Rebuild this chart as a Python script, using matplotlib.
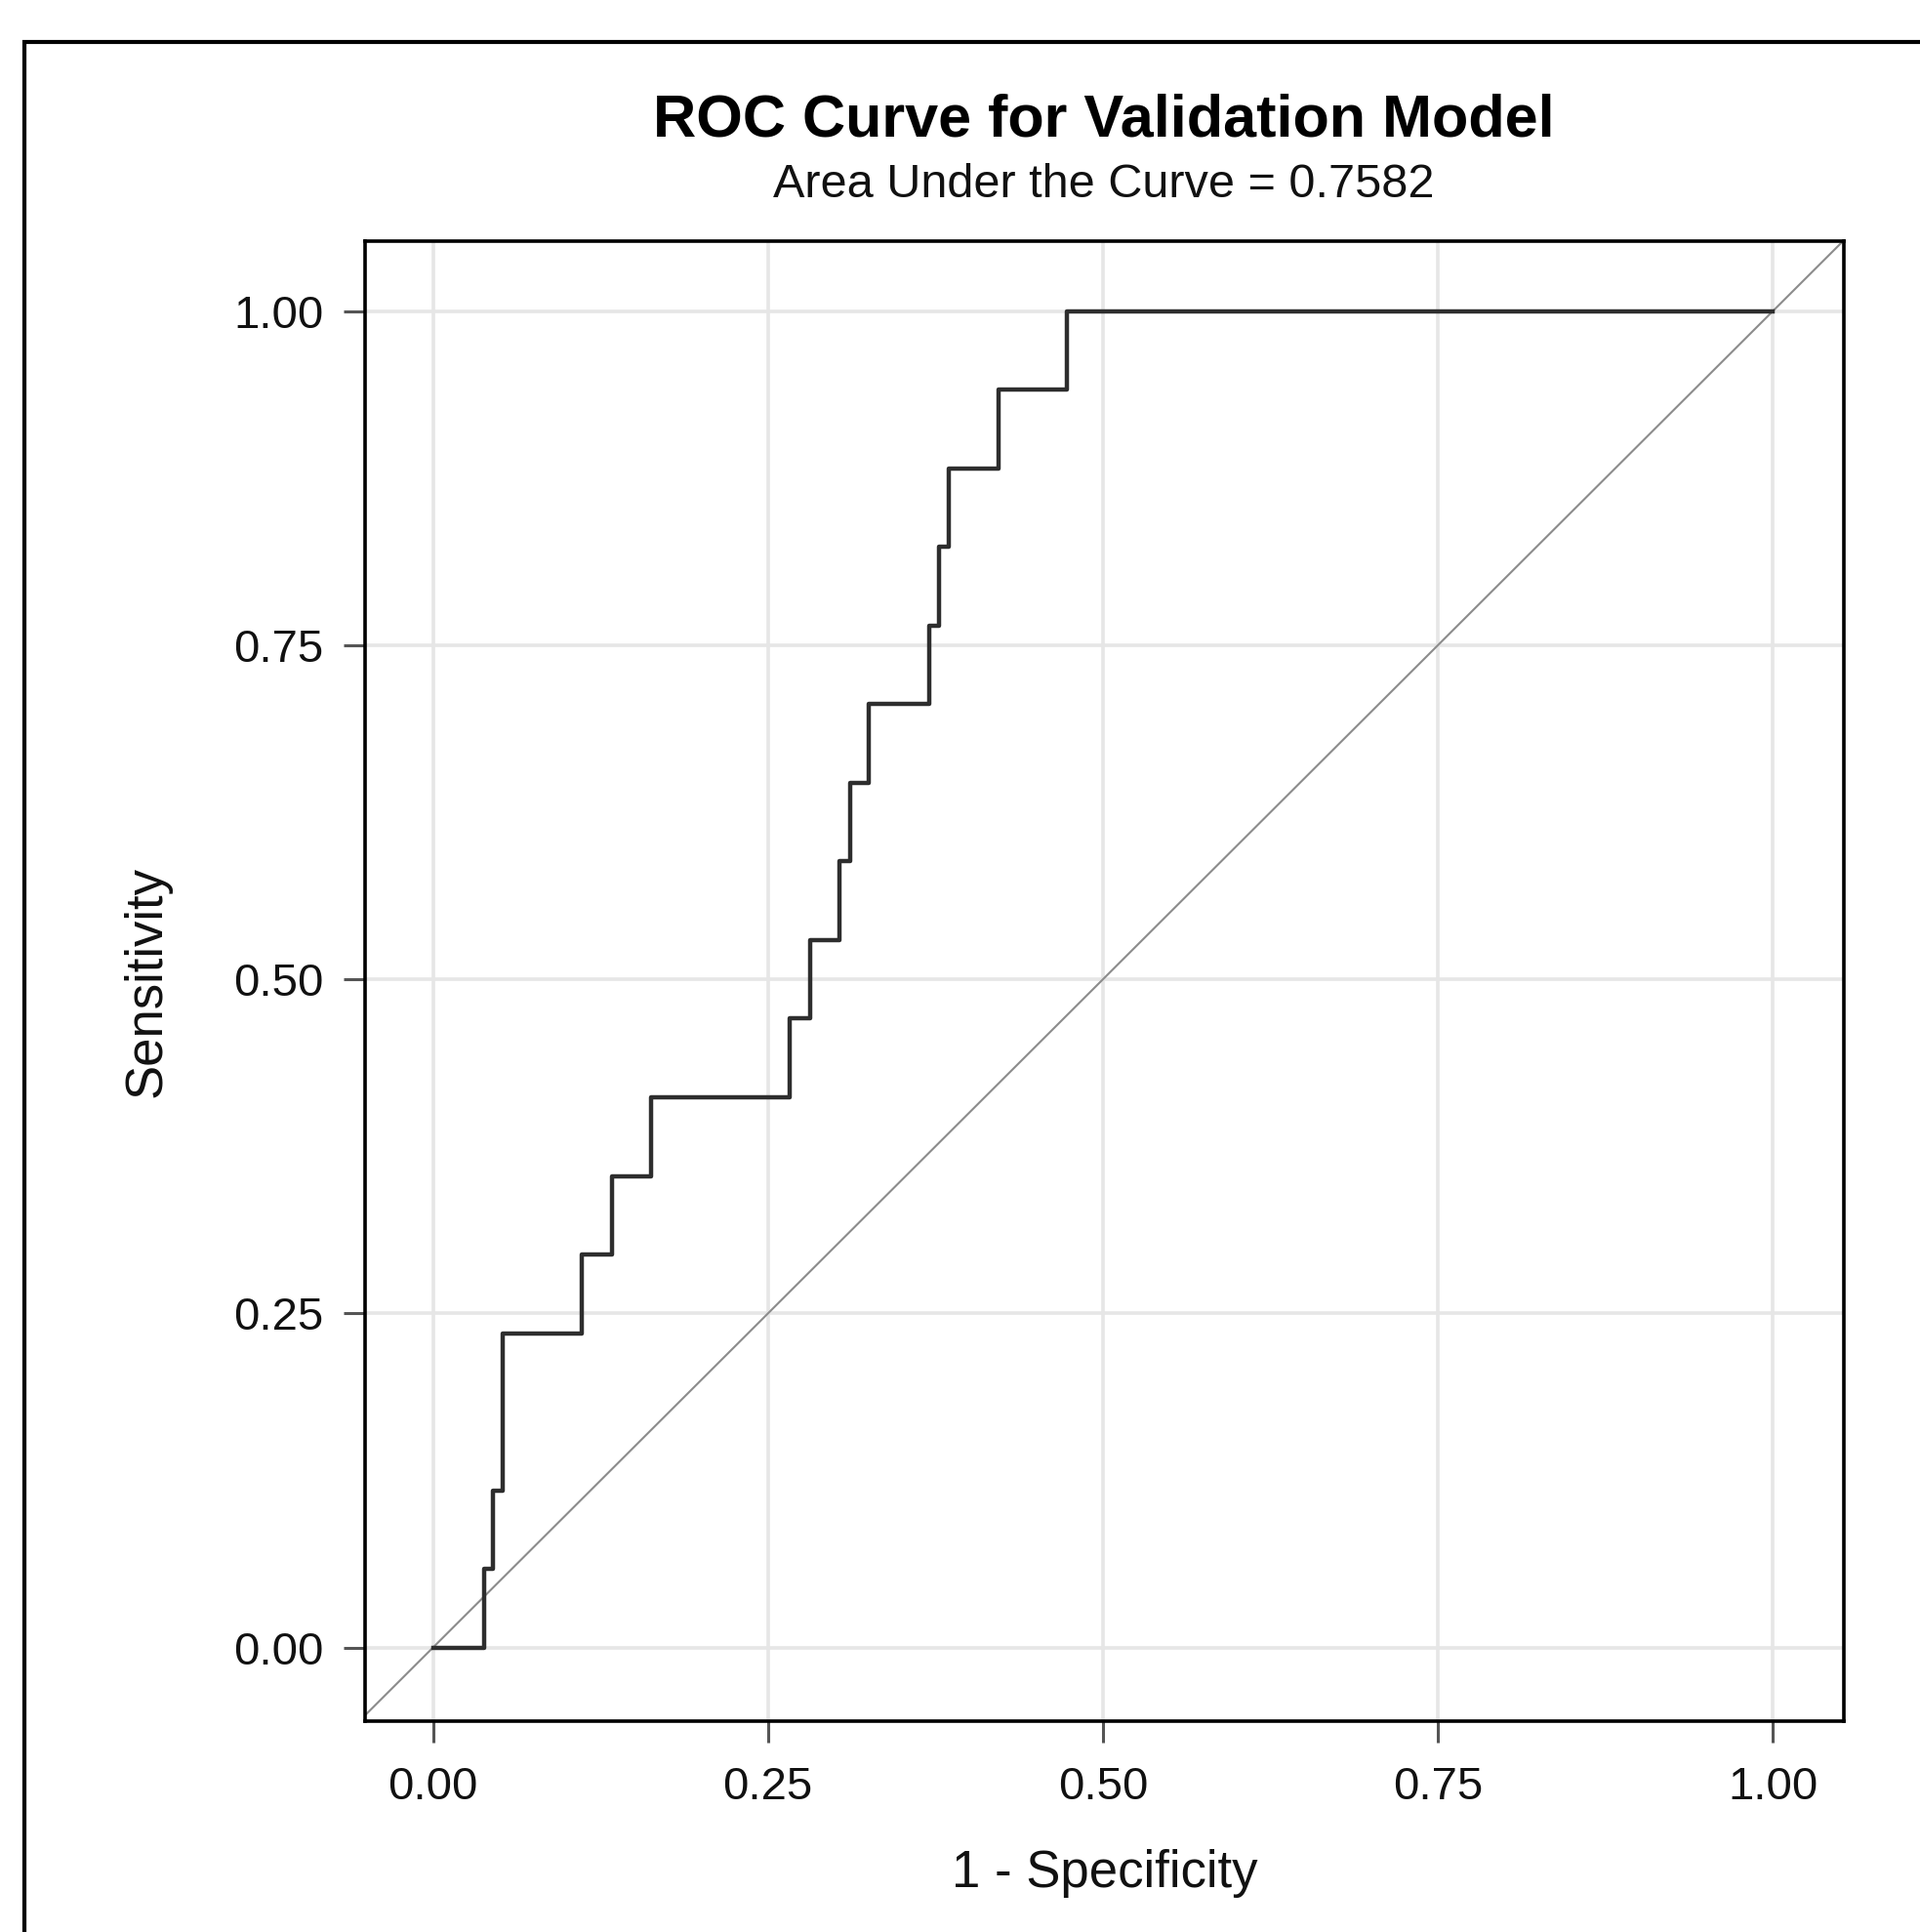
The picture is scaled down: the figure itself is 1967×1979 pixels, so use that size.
import matplotlib
matplotlib.use("Agg")
import matplotlib.pyplot as plt
from matplotlib.patches import Rectangle

# Data
fpr = [0.0, 0.0381, 0.0449, 0.0522, 0.1112, 0.1336, 0.1627, 0.2663, 0.2816,
       0.3034, 0.3115, 0.3253, 0.3703, 0.3776, 0.3848, 0.4224, 0.4734, 1.0]
sens = [0.0, 1/17, 2/17, 4/17, 5/17, 6/17, 7/17, 8/17, 9/17,
        10/17, 11/17, 12/17, 13/17, 14/17, 15/17, 16/17, 1.0, 1.0]
ticks = [0.0, 0.25, 0.5, 0.75, 1.0]
tick_labels = ["0.00", "0.25", "0.50", "0.75", "1.00"]
title = "ROC Curve for Validation Model"
subtitle = "Area Under the Curve = 0.7582"

plt.rcParams['font.family'] = ['Liberation Sans', 'DejaVu Sans']

W, H = 1967, 1979
fig = plt.figure(figsize=(W / 100, H / 100), dpi=100)

# outer frame (cut at right and bottom like in the reference)
fig.patches.append(Rectangle((25 / W, -0.05), 1.1, (H - 43) / H + 0.05,
                             transform=fig.transFigure, fill=False,
                             edgecolor='black', linewidth=3.0))

ax = fig.add_axes([373.5 / W, 216 / H, (1889 - 373.5) / W, (1763 - 247.5) / H])
ax.set_xlim(-0.051, 1.053)
ax.set_ylim(-0.055, 1.052)

ax.set_xticks(ticks)
ax.set_xticklabels(tick_labels)
ax.set_yticks(ticks)
ax.set_yticklabels(tick_labels)
ax.grid(True, color='#e6e6e6', linewidth=2.6)
ax.set_axisbelow(True)

ax.plot([-0.06, 1.06], [-0.06, 1.06], color='#8c8c8c', linewidth=1.5, zorder=2)
ax.step(fpr, sens, where='post', color='#2e2e2e', linewidth=3.2, zorder=3)

for s in ax.spines.values():
    s.set_linewidth(2.6)
    s.set_color('black')

ax.tick_params(axis='both', direction='out', length=16, width=2.2,
               color='#555555', labelsize=34, labelcolor='#111111')
ax.tick_params(axis='x', pad=17)
ax.tick_params(axis='y', pad=14)

ax.set_xlabel("1 - Specificity", fontsize=38, labelpad=30, color='#111111')
ax.set_ylabel("Sensitivity", fontsize=38, labelpad=46, color='#111111')

cx = (373.5 + 1889) / 2 / W
fig.text(cx, 1 - 124 / H, title, ha='center', va='center', fontsize=44,
         fontweight='bold', color='black')
fig.text(cx, 1 - 190 / H, subtitle, ha='center', va='center', fontsize=35,
         color='#111111')

fig.savefig("out.png", dpi=100)
